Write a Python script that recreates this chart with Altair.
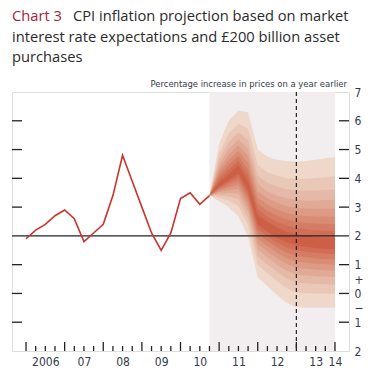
import altair as alt
import pandas as pd
from statistics import NormalDist

# ---------------- text ----------------
title_tag = "Chart 3"
title_lines = [
    "CPI inflation projection based on market",
    "interest rate expectations and £200 billion asset",
    "purchases",
]
subtitle = "Percentage increase in prices on a year earlier"

# ---------------- data ----------------
# CPI inflation history, quarterly (% change on a year earlier)
cpi_dates = [2006.0, 2006.25, 2006.5, 2006.75, 2007.0, 2007.25, 2007.5, 2007.75,
             2008.0, 2008.25, 2008.5, 2008.75, 2009.0, 2009.25, 2009.5, 2009.75,
             2010.0, 2010.25, 2010.5, 2010.75]
cpi_values = [1.9, 2.2, 2.4, 2.7, 2.9, 2.6, 1.8, 2.1,
              2.4, 3.4, 4.8, 3.9, 3.0, 2.1, 1.5, 2.1,
              3.3, 3.5, 3.1, 3.4]

# Fan chart: central path and outer (5% / 95%) edges
fan_dates = [2010.75, 2011.0, 2011.25, 2011.5, 2011.75, 2012.0, 2012.25,
             2012.5, 2012.75, 2013.0, 2013.25, 2013.5, 2013.75, 2014.0]
fan_center = [3.4, 3.75, 4.0, 4.3, 3.7, 2.55, 2.3, 2.1, 1.95, 1.85, 1.8, 1.75, 1.72, 1.7]
fan_upper = [3.4, 5.2, 6.0, 6.35, 6.3, 5.0, 4.75, 4.65, 4.6, 4.58, 4.6, 4.65, 4.7, 4.74]
fan_lower = [3.4, 3.2, 3.0, 2.67, 1.98, 0.55, 0.25, -0.05, -0.32, -0.48, -0.5, -0.5, -0.5, -0.5]

# probability boundaries of the bands (5% .. 95%)
probs = [0.05, 0.10, 0.15, 0.20, 0.25, 0.30, 0.35, 0.40, 0.45,
         0.55, 0.60, 0.65, 0.70, 0.75, 0.80, 0.85, 0.90, 0.95]
shade_colors = ["#efd8c9", "#eac8b7", "#e5b9a7", "#e1aa96", "#dd9b85",
                "#d98c74", "#d57d64", "#d16e55", "#cd5f47"]

projection_start = 2010.75
projection_end = 2014.0
target_line = 2.0
two_year_mark = 2013.0

year_labels_at = [2006.5, 2007.5, 2008.5, 2009.5, 2010.5, 2011.5, 2012.5, 2013.5, 2014.0]
y_label_values = [7, 6, 5, 4, 3, 2, 1, 0.5, 0, -0.5, -1, -2]
y_tick_values = [6, 5, 4, 3, 1, 0, -1]
major_x_ticks = [2006, 2007, 2008, 2009, 2010, 2011, 2012, 2013, 2014]
minor_x_ticks = [y + q for y in range(2006, 2014) for q in (0.25, 0.5, 0.75)]

# ---------------- build tables ----------------
z95 = NormalDist().inv_cdf(0.95)
fr = [NormalDist().inv_cdf(p) / z95 for p in probs]  # -1 .. 1

rows = []
n = len(probs)
for level in range(9):
    f_lo, f_hi = fr[level], fr[n - 1 - level]
    for t, c, u, l in zip(fan_dates, fan_center, fan_upper, fan_lower):
        lo = c + f_lo * (c - l)
        hi = c + f_hi * (u - c)
        rows.append({"t": t, "lo": lo, "hi": hi, "level": f"s{level}"})
fan_df = pd.DataFrame(rows)

cpi_df = pd.DataFrame({"t": cpi_dates, "v": cpi_values})
bg_df = pd.DataFrame({"t0": [projection_start], "t1": [projection_end]})
hline_df = pd.DataFrame({"v": [target_line]})
vline_df = pd.DataFrame({"t": [two_year_mark]})
ytick_df = pd.DataFrame({"v": y_tick_values})
xmaj_df = pd.DataFrame({"t": major_x_ticks})
xmin_df = pd.DataFrame({"t": minor_x_ticks})

# ---------------- scales / axes ----------------
W, H = 337, 259
INK = "#222222"
LABEL = "#343a4c"
NARROW = "DejaVu Sans Condensed"

xscale = alt.Scale(domain=[2005.637, 2014.363], nice=False, zero=False)
yscale = alt.Scale(domain=[-2, 7], nice=False, zero=False)

xaxis = alt.Axis(
    values=year_labels_at,
    labelExpr="datum.value < 2007 ? '2006' : substring(toString(floor(datum.value)), 2, 4)",
    domain=False, ticks=False, grid=False, title=None,
    labelFont=NARROW, labelFontSize=12, labelColor=LABEL,
    labelPadding=5, labelOverlap=False, labelFlush=False, labelBound=False,
)
yaxis = alt.Axis(
    orient="right", values=y_label_values,
    labelExpr="datum.value == 0.5 ? '+' : (datum.value == -0.5 ? '\u2212' : toString(abs(datum.value)))",
    domain=False, ticks=False, grid=False, title=None,
    labelFont=NARROW, labelFontSize=12, labelColor=LABEL,
    labelPadding=5, labelAlign="left", labelBaseline="middle",
    labelOverlap=False, labelFlush=False, labelBound=False,
)


def X(field):
    return alt.X(field, type="quantitative", scale=xscale, axis=xaxis)


def Y(field):
    return alt.Y(field, type="quantitative", scale=yscale, axis=yaxis)


bg = alt.Chart(bg_df).mark_rect(color="#f2eef0").encode(
    x=X("t0"), x2="t1", y=alt.value(0), y2=alt.value(H)
)

fan = alt.Chart(fan_df).mark_area(interpolate="linear", opacity=1).encode(
    x=X("t"), y=Y("lo"), y2="hi",
    color=alt.Color("level:N", scale=alt.Scale(domain=[f"s{i}" for i in range(9)], range=shade_colors), legend=None),
    detail="level:N",
    order=alt.Order("level:N"),
)

hline = alt.Chart(hline_df).mark_rule(color=INK, strokeWidth=1.2).encode(
    y=Y("v"), x=alt.value(0), x2=alt.value(W)
)

vline = alt.Chart(vline_df).mark_rule(color=INK, strokeWidth=1.2, strokeDash=[4, 3]).encode(
    x=X("t"), y=alt.value(0), y2=alt.value(H)
)

cpi = alt.Chart(cpi_df).mark_line(color="#c8342b", strokeWidth=1.6).encode(
    x=X("t"), y=Y("v")
)

lticks = alt.Chart(ytick_df).mark_rule(color=INK, strokeWidth=1.3).encode(
    y=Y("v"), x=alt.value(0), x2=alt.value(10)
)
rticks = alt.Chart(ytick_df).mark_rule(color=INK, strokeWidth=1.3).encode(
    y=Y("v"), x=alt.value(W - 10), x2=alt.value(W)
)
xmaj = alt.Chart(xmaj_df).mark_rule(color=INK, strokeWidth=1.3).encode(
    x=X("t"), y=alt.value(H), y2=alt.value(H - 9)
)
xmin = alt.Chart(xmin_df).mark_rule(color=INK, strokeWidth=1.3).encode(
    x=X("t"), y=alt.value(H), y2=alt.value(H - 5)
)


def header(text, x, y, color, size, font, align="left"):
    return alt.Chart(pd.DataFrame({"s": [text]})).mark_text(
        align=align, baseline="alphabetic", font=font, fontSize=size, color=color
    ).encode(x=alt.value(x), y=alt.value(y), text="s:N")


HFONT = "Open Sans"
texts = [
    header(title_tag, 0, -71, "#a3243b", 14.7, HFONT),
    header(title_lines[0], 61, -71, "#2b2b2b", 14.7, HFONT),
    header(title_lines[1], 0, -50, "#2b2b2b", 14.7, HFONT),
    header(title_lines[2], 0, -30, "#2b2b2b", 14.7, HFONT),
    header(subtitle, 335, -5, "#343a4c", 9.4, NARROW, align="right"),
]

chart = alt.layer(bg, fan, hline, vline, cpi, lticks, rticks, xmaj, xmin, *texts).properties(
    width=W, height=H,
    autosize=alt.AutoSizeParams(type="none"),
    padding={"left": 12, "top": 92, "right": 32, "bottom": 24},
).configure_view(stroke=INK, strokeWidth=1.4).configure(background="white")

chart.save("out.html", embed_options={"renderer": "svg", "actions": False})
